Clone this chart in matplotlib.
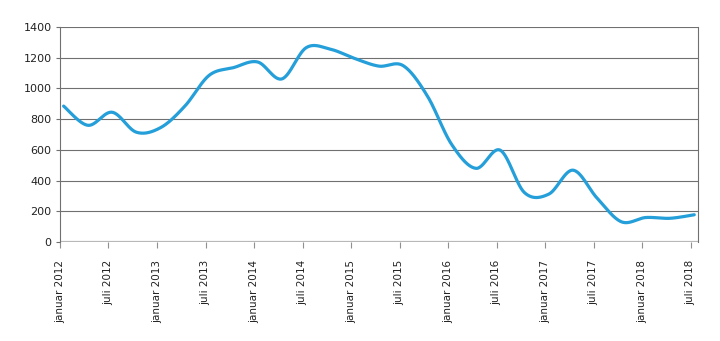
import numpy as np
import matplotlib.pyplot as plt

# months since januar 2012 (quarterly readings)
maaned = [0, 3, 6, 9, 12, 15, 18, 21, 24, 27, 30, 33, 36, 39, 42, 45, 48, 51, 54, 57,
          60, 63, 66, 69, 72, 75, 78]
verdi = [885, 760, 845, 715, 745, 885, 1085, 1135, 1172, 1062, 1265, 1255, 1195, 1145,
         1148, 950, 635, 480, 598, 322, 312, 468, 285, 132, 160, 155, 178]

tick_pos = list(range(0, 79, 6))
tick_labels = []
for ar in range(2012, 2019):
    tick_labels += ["januar %d" % ar, "juli %d" % ar]


def glatt(x, y, n=30):
    # Excel-style smoothed line (Catmull-Rom as cubic Bezier)
    x = np.asarray(x, float)
    y = np.asarray(y, float)
    px = np.concatenate([[x[0]], x, [x[-1]]])
    py = np.concatenate([[y[0]], y, [y[-1]]])
    xs, ys = [], []
    t = np.linspace(0, 1, n)
    for i in range(1, len(px) - 2):
        p0 = np.array([px[i], py[i]])
        p3 = np.array([px[i + 1], py[i + 1]])
        p1 = p0 + (np.array([px[i + 1], py[i + 1]]) - np.array([px[i - 1], py[i - 1]])) / 6
        p2 = p3 - (np.array([px[i + 2], py[i + 2]]) - np.array([px[i], py[i]])) / 6
        b = ((1 - t) ** 3)[:, None] * p0 + (3 * (1 - t) ** 2 * t)[:, None] * p1 \
            + (3 * (1 - t) * t ** 2)[:, None] * p2 + (t ** 3)[:, None] * p3
        xs.append(b[:, 0])
        ys.append(b[:, 1])
    return np.concatenate(xs), np.concatenate(ys)


fig = plt.figure(figsize=(7.2, 3.41), dpi=100)
ax = fig.add_axes([0.0833, 0.290, 0.886, 0.631])

for v in range(200, 1401, 200):
    ax.axhline(v, color='#707070', lw=0.8, zorder=1)
ax.axhline(0, color='#b8b8b8', lw=1.6, zorder=1)

# points sit mid-month on the date axis
gx, gy = glatt(np.array(maaned) + 0.45, verdi)
ax.plot(gx, gy, color='#259fd9', lw=2.3, solid_capstyle='round', zorder=3)

ax.set_xlim(0, 78.9)
ax.set_ylim(0, 1400)
ax.set_yticks(range(0, 1401, 200))
ax.set_xticks(tick_pos)
ax.set_xticklabels(tick_labels, rotation=90, fontsize=7.5, color='#222222')
ax.tick_params(axis='x', length=4, color='#909090', pad=9)
ax.tick_params(axis='y', length=3, color='#707070', labelsize=8, pad=3, labelcolor='#222222')

for s in ['top', 'bottom']:
    ax.spines[s].set_visible(False)
for s in ['left', 'right']:
    ax.spines[s].set_color('#707070')
    ax.spines[s].set_linewidth(0.8)

fig.savefig('out.png', dpi=100)
